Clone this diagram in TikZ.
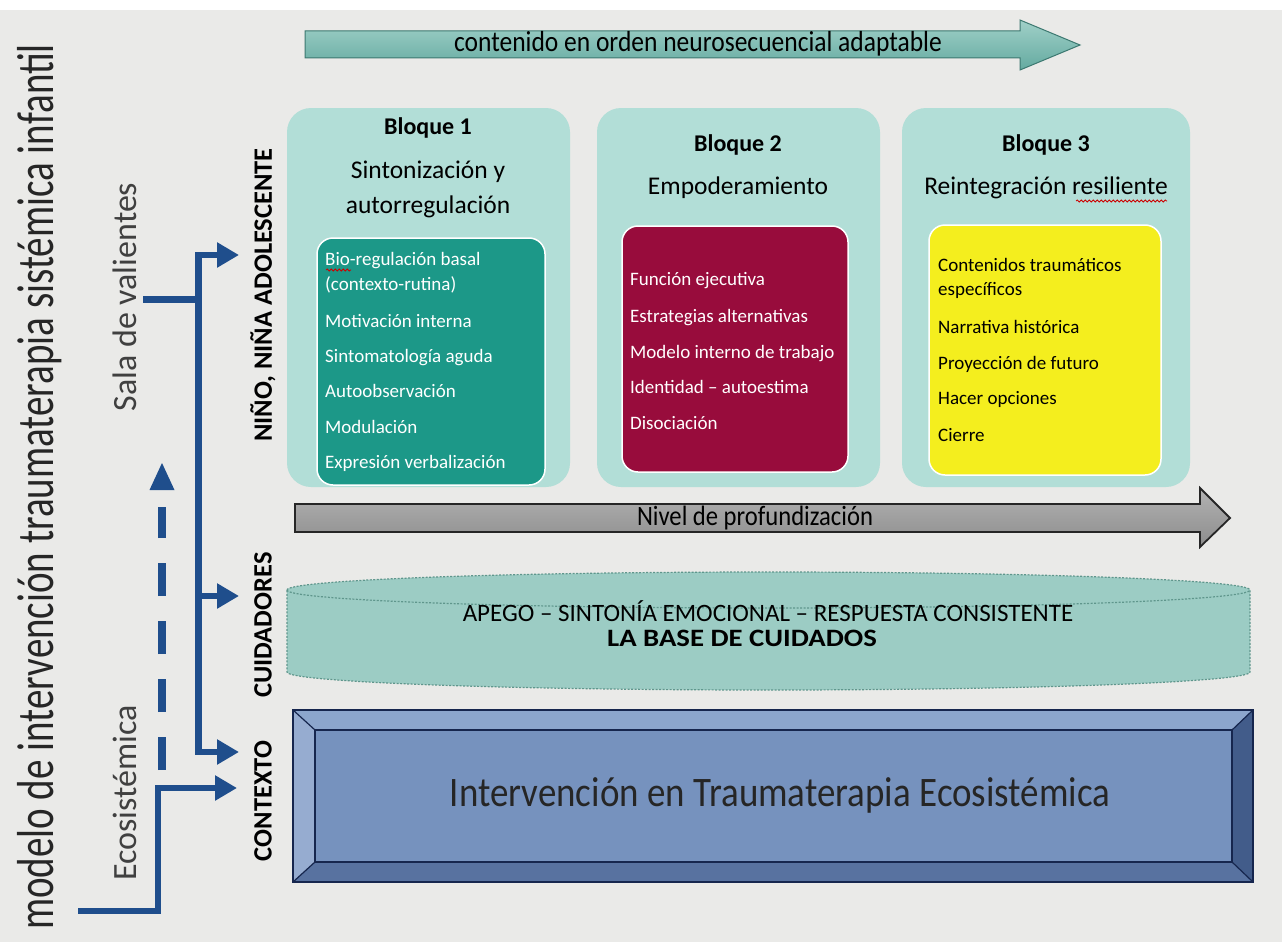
\documentclass[tikz,border=0pt]{standalone}
\usepackage{fontspec}
\setmainfont{Carlito}
\newfontfamily\condA[FakeStretch=0.75]{Carlito}
\newfontfamily\condB[FakeStretch=0.88]{Carlito}
\newfontfamily\wideB[FakeStretch=1.15]{Carlito}
\usetikzlibrary{arrows.meta,decorations.pathmorphing,calc}
\definecolor{bg}{RGB}{234,234,232}
\definecolor{navy}{RGB}{31,78,140}
\definecolor{blockbg}{RGB}{178,222,215}
\definecolor{inteal}{RGB}{28,152,136}
\definecolor{incrim}{RGB}{152,12,60}
\definecolor{inyel}{RGB}{244,238,30}
\definecolor{cyl}{RGB}{156,204,196}
\definecolor{cylline}{RGB}{95,150,140}
\definecolor{tealtop}{RGB}{160,208,200}
\definecolor{tealbot}{RGB}{100,170,160}
\definecolor{tealline}{RGB}{60,120,112}
\definecolor{bvface}{RGB}{118,146,190}
\definecolor{bvlight}{RGB}{140,166,205}
\definecolor{bvleft}{RGB}{150,172,208}
\definecolor{bvdark}{RGB}{66,92,138}
\definecolor{bvbot}{RGB}{88,114,160}
\definecolor{bvline}{RGB}{22,38,78}
\begin{document}
\begin{tikzpicture}[x=1pt,y=-1pt,
  blockbox/.style={fill=blockbg, draw=none, rounded corners=24pt, inner sep=0pt},
  innerbox/.style={draw=white, line width=1.5pt, rounded corners=16pt, inner sep=0pt},
  item/.style={anchor=base west, inner sep=0pt, font=\fontsize{19}{22}\selectfont},
  btitle/.style={inner sep=0pt, font=\fontsize{24}{28}\selectfont\bfseries},
  bsub/.style={inner sep=0pt, font=\fontsize{25.5}{30}\selectfont},
  rowlabel/.style={rotate=90, inner sep=0pt, font=\bfseries\fontsize{26.5}{30}\selectfont},
  sidelabel/.style={rotate=90, inner sep=0pt, text=black!75, font=\fontsize{34}{38}\selectfont},
  bus/.style={draw=navy, line width=7pt},
  busarrow/.style={draw=navy, line width=6pt, -{Triangle[length=22pt,width=24pt]}},
  squig/.style={draw=red!80!black, line width=0.8pt, decorate, decoration={snake, amplitude=1pt, segment length=4pt}}
]
\useasboundingbox (0,0) rectangle (1282,942);
\fill[bg] (0,0) rectangle (1282,942);
\fill[white] (0,0) rectangle (1282,10);

% title
\node[rotate=90, inner sep=0pt, text=black!85, font=\condA\fontsize{52}{56}\selectfont] (title) at (40,487) {modelo de intervención traumaterapia sistémica infantil};
\node[sidelabel] (sala) at (125,297) {Sala de valientes};
\node[sidelabel] (eco) at (125,793) {Ecosistémica};

% row labels
\node[rowlabel] (nino) at (263,295) {NIÑO, NIÑA ADOLESCENTE};
\node[rowlabel] (cuid) at (263,625) {CUIDADORES};
\node[rowlabel] (ctx) at (263,801) {CONTEXTO};

% connectors
\coordinate (salaend) at (143,299);
\coordinate (bustop) at (198,255);
\coordinate (busmid) at (198,596);
\coordinate (busbot) at (198,752);
\coordinate (tnino) at (239,255);
\coordinate (tcuid) at (239,596);
\coordinate (tctx1) at (239,752);
\coordinate (ecoend) at (78,911);
\coordinate (ecocorner) at (158,911);
\coordinate (tctx2) at (237,788);
\coordinate (dashbot) at (162,770);
\coordinate (dashtop) at (162,463);
\draw[bus] (salaend) -- (198,299);
\draw[bus] (198,252) -- (198,755);
\draw[busarrow] (bustop) -- (tnino);
\draw[busarrow] (busmid) -- (tcuid);
\draw[busarrow] (busbot) -- (tctx1);
\draw[busarrow] (ecoend) -- (ecocorner) |- (tctx2);
\draw[draw=navy, line width=8.5pt, dash pattern=on 33pt off 25pt] (dashbot) -- (162,507);
\fill[navy] (dashtop) -- (174.5,490) -- (149.5,490) -- cycle;

% top arrow
\shade[top color=tealtop, bottom color=tealbot, draw=tealline, line width=1pt]
  (305,31) -- (1020,31) -- (1020,20) -- (1080,45) -- (1020,70) -- (1020,58) -- (305,58) -- cycle;
\node[inner sep=0pt, font=\condB\fontsize{29}{32}\selectfont] (neuro) at (698,44) {contenido en orden neurosecuencial adaptable};

% blocks
\node[blockbox, minimum width=283pt, minimum height=379pt] (b1) at (428.5,297.5) {};
\node[blockbox, minimum width=283pt, minimum height=379pt] (b2) at (738.5,297.5) {};
\node[blockbox, minimum width=288pt, minimum height=379pt] (b3) at (1046,297.5) {};

\node[btitle] (b1t) at (428,128) {Bloque 1};
\node[bsub] (b1s1) at (428,172) {Sintonización y};
\node[bsub] (b1s2) at (428,207) {autorregulación};
\node[btitle] (b2t) at (738,145) {Bloque 2};
\node[bsub] (b2s) at (738,188) {Empoderamiento};
\node[btitle] (b3t) at (1046,145) {Bloque 3};
\node[bsub] (b3s) at (1046,188) {Reintegración resiliente};

\node[innerbox, fill=inteal, minimum width=228pt, minimum height=247pt] (i1) at (431,361.5) {};
\node[innerbox, fill=incrim, minimum width=226pt, minimum height=246pt] (i2) at (735,349) {};
\node[innerbox, fill=inyel, minimum width=232pt, minimum height=250pt] (i3) at (1045,350) {};

\begin{scope}[every node/.style={item, text=white}]
\node (a1) at (325,265) {Bio-regulación basal};
\node (a2) at (325,290) {(contexto-rutina)};
\node (a3) at (325,327) {Motivación interna};
\node (a4) at (325,362) {Sintomatología aguda};
\node (a5) at (325,397) {Autoobservación};
\node (a6) at (325,433) {Modulación};
\node (a7) at (325,468) {Expresión verbalización};
\node (c1) at (630,285) {Función ejecutiva};
\node (c2) at (630,322) {Estrategias alternativas};
\node (c3) at (630,358) {Modelo interno de trabajo};
\node (c4) at (630,393) {Identidad – autoestima};
\node (c5) at (630,429) {Disociación};
\end{scope}
\begin{scope}[every node/.style={item, text=black}]
\node (d1) at (938,271) {Contenidos traumáticos};
\node (d2) at (938,295) {específicos};
\node (d3) at (938,333) {Narrativa histórica};
\node (d4) at (938,369) {Proyección de futuro};
\node (d5) at (938,404) {Hacer opciones};
\node (d6) at (938,441) {Cierre};
\end{scope}
\draw[squig] (326,270) -- (351,270);
\draw[squig] (1076,201) -- (1167,201);

% depth arrow
\shade[top color=black!30, bottom color=black!45, draw=black!85, line width=1.8pt]
  (295,504) -- (1200,504) -- (1200,488) -- (1230,518) -- (1200,547) -- (1200,532) -- (295,532) -- cycle;
\node[inner sep=0pt, font=\condB\fontsize{28}{32}\selectfont] (nivel) at (755,518) {Nivel de profundización};

% cylinder band
\draw[fill=cyl, draw=cylline, line width=1.2pt, dash pattern=on 2pt off 1.5pt]
  (287,590) arc[start angle=180, end angle=0, x radius=481.5pt, y radius=18pt]
  -- (1250,672) arc[start angle=0, end angle=-180, x radius=481.5pt, y radius=18pt] -- cycle;
\draw[draw=cylline, line width=1.2pt, dash pattern=on 2pt off 1.5pt]
  (287,590) arc[start angle=180, end angle=360, x radius=481.5pt, y radius=18pt];
\node[anchor=base, inner sep=0pt, font=\fontsize{25}{22}\selectfont] (apego) at (768,621)
  {APEGO – SINTONÍA EMOCIONAL – RESPUESTA CONSISTENTE};
\node[anchor=base, inner sep=0pt, font=\wideB\bfseries\fontsize{25}{22}\selectfont] (base) at (742,646)
  {LA BASE DE CUIDADOS};

% bevel box
\fill[bvface] (293,710) rectangle (1253,882);
\fill[bvlight] (293,710) -- (1253,710) -- (1232,730) -- (315,730) -- cycle;
\fill[bvleft] (293,710) -- (315,730) -- (315,862) -- (293,882) -- cycle;
\fill[bvdark] (1253,710) -- (1253,882) -- (1232,862) -- (1232,730) -- cycle;
\fill[bvbot] (293,882) -- (1253,882) -- (1232,862) -- (315,862) -- cycle;
\draw[bvline, line width=1.2pt] (293,710) -- (315,730) (1253,710) -- (1232,730) (293,882) -- (315,862) (1253,882) -- (1232,862);
\draw[bvline, line width=2pt] (315,730) rectangle (1232,862);
\draw[bvline, line width=2pt] (293,710) rectangle (1253,882);
\node[inner sep=0pt, font=\condB\fontsize{42}{46}\selectfont, text=black!85] (interv) at (780,795) {Intervención en Traumaterapia Ecosistémica};
\end{tikzpicture}
\end{document}
